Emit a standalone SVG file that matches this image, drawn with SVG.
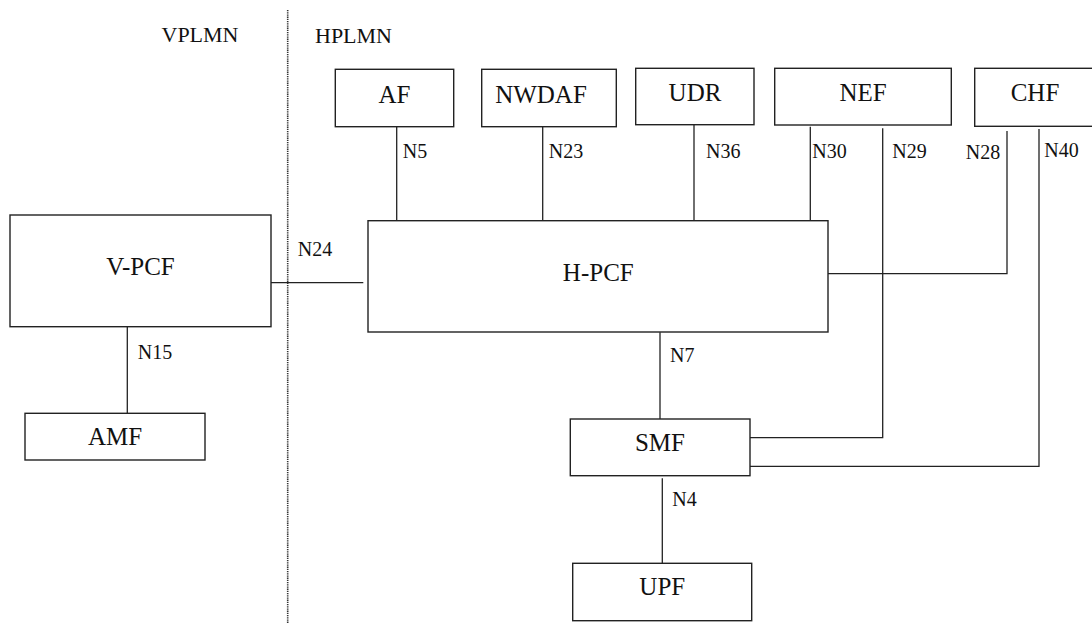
<svg xmlns="http://www.w3.org/2000/svg" width="1092" height="623" viewBox="0 0 1092 623">
<style>
.box{fill:#fff;stroke:#222;stroke-width:1.4}
.nt{font-family:"Liberation Serif","Times New Roman",serif;font-size:25px;fill:#111;text-anchor:middle}
.lb{font-family:"Liberation Serif","Times New Roman",serif;font-size:20px;fill:#111}
.rg{font-family:"Liberation Serif","Times New Roman",serif;font-size:22px;fill:#111}
.ln{fill:none;stroke:#222;stroke-width:1.3}
</style>
<rect width="1092" height="623" fill="#fff"/>
<line x1="287.7" y1="10" x2="287.7" y2="623" stroke="#333" stroke-width="1.6" stroke-dasharray="1.3 0.9"/>
<text class="rg" x="161.5" y="41.7">VPLMN</text>
<text class="rg" x="315" y="43">HPLMN</text>
<g id="connectors">
<line class="ln" x1="396.7" y1="126.7" x2="396.7" y2="220.7"/>
<line class="ln" x1="542.7" y1="126.7" x2="542.7" y2="220.7"/>
<line class="ln" x1="694" y1="125" x2="694" y2="220.7"/>
<line class="ln" x1="810.3" y1="126.7" x2="810.3" y2="220.7"/>
<polyline class="ln" points="882.7,128.3 882.7,437.7 748.3,437.7"/>
<polyline class="ln" points="1007,131 1007,273.7 824,273.7"/>
<polyline class="ln" points="1039,129 1039,466.3 750,466.3"/>
<line class="ln" x1="271" y1="282.7" x2="363.3" y2="282.7"/>
<line class="ln" x1="127.3" y1="326.7" x2="127.3" y2="413.3"/>
<line class="ln" x1="660" y1="332.3" x2="660" y2="419"/>
<line class="ln" x1="662.3" y1="478.3" x2="662.3" y2="563.3"/>
<text class="lb" x="402.7" y="158">N5</text>
<text class="lb" x="548.7" y="158">N23</text>
<text class="lb" x="706" y="158">N36</text>
<text class="lb" x="812.3" y="157.5">N30</text>
<text class="lb" x="892.3" y="158">N29</text>
<text class="lb" x="965.7" y="159.3">N28</text>
<text class="lb" x="1044.3" y="156.7">N40</text>
<text class="lb" x="297.7" y="255.7">N24</text>
<text class="lb" x="137.7" y="358.7">N15</text>
<text class="lb" x="670" y="362.3">N7</text>
<text class="lb" x="672.3" y="505.7">N4</text>
</g>
<g id="AF"><rect class="box" x="335.3" y="69.3" width="118.4" height="57.4"/><text class="nt" x="394.5" y="102.5">AF</text></g>
<g id="NWDAF"><rect class="box" x="481.7" y="69.3" width="134.6" height="57.4"/><text class="nt" x="541" y="102.5">NWDAF</text></g>
<g id="UDR"><rect class="box" x="635.7" y="68.3" width="118.3" height="56.4"/><text class="nt" x="695" y="100.5">UDR</text></g>
<g id="NEF"><rect class="box" x="774.7" y="68.3" width="176.6" height="56.7"/><text class="nt" x="863" y="100.5">NEF</text></g>
<g id="CHF"><rect class="box" x="974.7" y="68.3" width="130" height="58"/><text class="nt" x="1035" y="100.5">CHF</text></g>
<g id="V-PCF"><rect class="box" x="10" y="215" width="261" height="111.7"/><text class="nt" x="140.5" y="275">V-PCF</text></g>
<g id="H-PCF"><rect class="box" x="368" y="220.7" width="460" height="111.3"/><text class="nt" x="598.3" y="281">H-PCF</text></g>
<g id="AMF"><rect class="box" x="25" y="413.3" width="180" height="46.7"/><text class="nt" x="115" y="445">AMF</text></g>
<g id="SMF"><rect class="box" x="570.3" y="419" width="179.7" height="56.7"/><text class="nt" x="660" y="451">SMF</text></g>
<g id="UPF"><rect class="box" x="572.7" y="563.3" width="179" height="57.4"/><text class="nt" x="662.3" y="595">UPF</text></g>
</svg>
